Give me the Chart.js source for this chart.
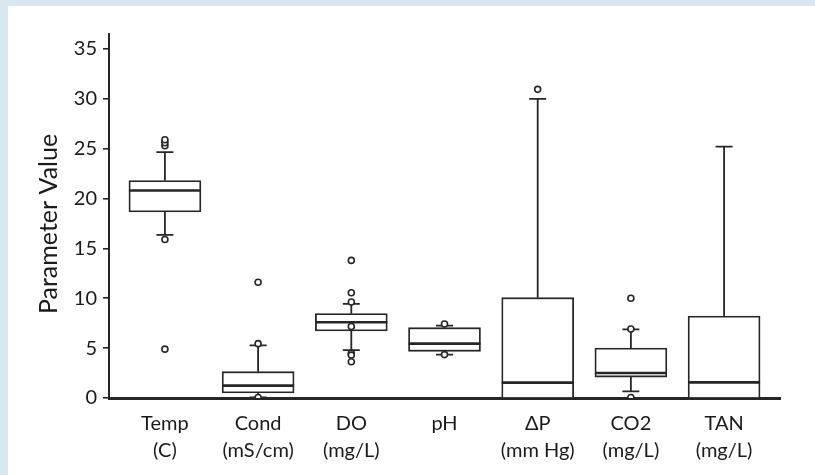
<!DOCTYPE html>
<html>
<head>
<meta charset="utf-8">
<script src="https://cdn.jsdelivr.net/npm/chart.js@4"></script>
<style>
  body { margin: 0; background: #d8e7f0; width: 815px; height: 475px; overflow: hidden; }
  #panel { position: absolute; left: 8px; top: 6px; width: 807px; height: 469px; background: #fff; }
</style>
</head>
<body>
<div id="panel"><canvas id="boxChart" width="807" height="469"></canvas></div>
<script>
// box plot values
const categories = [['Temp', '(C)'], ['Cond', '(mS/cm)'], ['DO', '(mg/L)'], ['pH'], ['\u0394P', '(mm Hg)'], ['CO2', '(mg/L)'], ['TAN', '(mg/L)']];
const q1 = [18.65, 0.5, 6.72, 4.68, 0, 2.1, 0];
const q3 = [21.8, 2.64, 8.46, 7.05, 10.06, 5.01, 8.22];
const medians = [20.8, 1.24, 7.59, 5.45, 1.54, 2.5, 1.57];
const whiskerLow = [16.35, 0.05, 4.81, 4.35, 0, 0.67, 0];
const whiskerHigh = [24.65, 5.28, 9.43, 7.25, 30.0, 6.89, 25.2];
const outliers = [
    [25.3, 25.6, 25.9, 15.9, 4.9],
    [5.45, 11.6, 0.05],
    [13.8, 10.55, 9.63, 7.17, 4.48, 4.3, 3.64],
    [7.42, 4.35],
    [30.95],
    [10.0, 6.92, 0.05],
    []
];
const yTicks = [0, 5, 10, 15, 20, 25, 30, 35];

const ink = '#262626';
const textInk = '#1a1a1a';
const font = 'Lato';

const boxData = categories.map((c, i) => ({ x: i, y: [q1[i], q3[i]] }));
const outlierData = [];
outliers.forEach((vals, i) => vals.forEach(v => outlierData.push({ x: i, y: v })));

// whiskers behind the boxes, medians on top
const boxParts = {
    id: 'boxParts',
    beforeDatasetsDraw(chart) {
        const { ctx, scales: { x, y } } = chart;
        ctx.save();
        ctx.strokeStyle = ink;
        ctx.lineWidth = 1.8;
        categories.forEach((c, i) => {
            const px = x.getPixelForValue(i);
            [[q3[i], whiskerHigh[i]], [q1[i], whiskerLow[i]]].forEach(([from, to]) => {
                if (from === to) return;
                ctx.beginPath();
                ctx.moveTo(px, y.getPixelForValue(from));
                ctx.lineTo(px, y.getPixelForValue(to));
                ctx.moveTo(px - 8.5, y.getPixelForValue(to));
                ctx.lineTo(px + 8.5, y.getPixelForValue(to));
                ctx.stroke();
            });
        });
        ctx.restore();
    },
    afterDatasetDraw(chart, args) {
        if (args.index !== 0) return;
        const { ctx, scales: { x, y } } = chart;
        const half = chart.getDatasetMeta(0).data[0].width / 2;
        ctx.save();
        ctx.strokeStyle = ink;
        ctx.lineWidth = 2.6;
        medians.forEach((m, i) => {
            const px = x.getPixelForValue(i);
            const py = y.getPixelForValue(m);
            ctx.beginPath();
            ctx.moveTo(px - half, py);
            ctx.lineTo(px + half, py);
            ctx.stroke();
        });
        ctx.restore();
    },
    afterDraw(chart) {
        const { ctx } = chart;
        ctx.save();
        ctx.translate(41, 218);
        ctx.rotate(-Math.PI / 2);
        ctx.fillStyle = textInk;
        ctx.font = '25px ' + font;
        ctx.textAlign = 'center';
        ctx.textBaseline = 'middle';
        ctx.fillText('Parameter Value', 0, 0);
        ctx.restore();
    }
};

new Chart(document.getElementById('boxChart').getContext('2d'), {
    type: 'bar',
    data: {
        datasets: [
            {
                type: 'bar', data: boxData, backgroundColor: '#fff', borderColor: ink,
                borderWidth: 1.8, barThickness: 72, order: 2,
                borderSkipped: c => (q1[c.dataIndex] === 0 ? 'start' : false)
            },
            {
                type: 'scatter', data: outlierData, pointStyle: 'circle', pointRadius: 3,
                pointBorderWidth: 1.6, pointBackgroundColor: '#fff', pointBorderColor: ink, order: 1
            }
        ]
    },
    options: {
        responsive: false,
        animation: false,
        layout: { padding: { top: 28, right: 35, left: 0, bottom: 0 } },
        plugins: { legend: { display: false }, tooltip: { enabled: false } },
        scales: {
            x: {
                type: 'linear', min: -0.6, max: 6.6, offset: false,
                grid: { display: false, offset: false },
                border: { display: true, color: ink, width: 3 },
                ticks: {
                    stepSize: 1, includeBounds: false, autoSkip: false, maxRotation: 0,
                    padding: 4, color: textInk, font: { family: font, size: 20, lineHeight: 1.35 },
                    callback: v => categories[v]
                },
                afterFit: s => { s.height = 77; }
            },
            y: {
                min: 0, max: 36.5,
                grid: { display: true, drawOnChartArea: false, tickLength: 6, color: ink, lineWidth: 1.6 },
                border: { display: true, color: ink, width: 2 },
                afterBuildTicks: s => { s.ticks = yTicks.map(v => ({ value: v })); },
                ticks: { padding: 6, color: textInk, font: { family: font, size: 20 } },
                afterFit: s => { s.width = 101; }
            }
        }
    },
    plugins: [boxParts]
});
</script>
</body>
</html>
